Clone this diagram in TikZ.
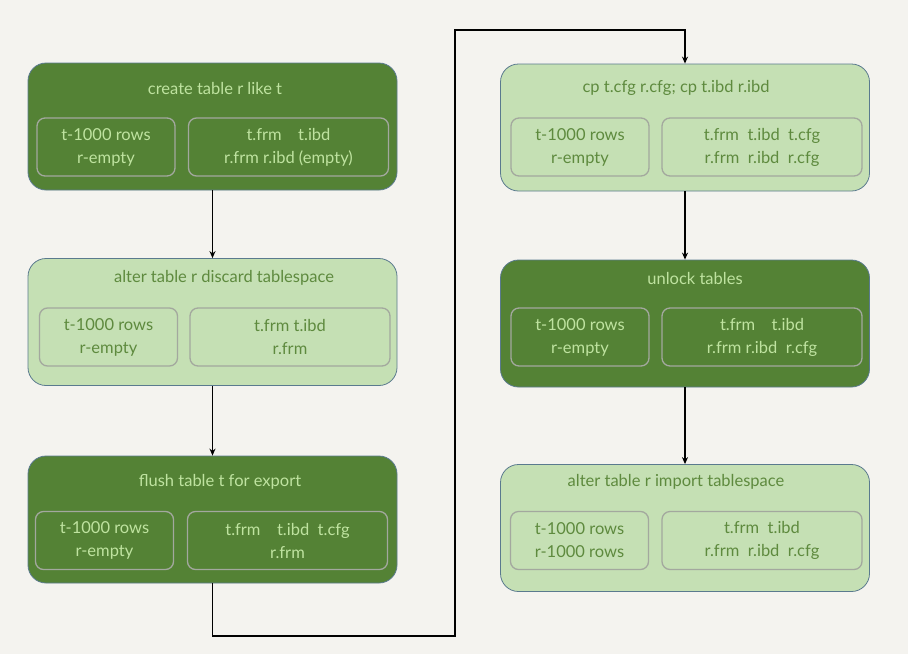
\documentclass[tikz,border=0pt]{standalone}
\usepackage{fontspec}
\setmainfont{Lato}
\usetikzlibrary{arrows.meta}
\definecolor{bg}{HTML}{F4F3EF}
\definecolor{dk}{HTML}{548235}
\definecolor{lt}{HTML}{C5E0B4}
\definecolor{dktext}{HTML}{BFE3A0}
\definecolor{lttext}{HTML}{5E8A3E}
\definecolor{edge}{HTML}{5A7A8E}
\definecolor{inedge}{HTML}{A3A89E}
\tikzset{
  outerdark/.style={draw=edge, line width=0.8pt, fill=dk, rounded corners=18pt, minimum width=369pt, minimum height=127pt},
  outerlight/.style={draw=edge, line width=0.8pt, fill=lt, rounded corners=18pt, minimum width=369pt, minimum height=127pt},
  innerbox/.style={draw=inedge, line width=1.3pt, rounded corners=8pt, minimum height=58pt, align=center, font=\fontsize{16.5}{23}\selectfont, inner sep=0pt},
  lbox/.style={innerbox, minimum width=138pt},
  rbox/.style={innerbox, minimum width=200pt},
  title/.style={font=\fontsize{16.5}{19}\selectfont},
  arr/.style={line width=1.4pt, black, -{Stealth[length=7pt,width=6pt]}}
}
\begin{document}
\begin{tikzpicture}[x=1pt,y=-1pt]
\useasboundingbox[fill=bg] (0,0) rectangle (908,654);
% left column
\node[outerdark] (b1) at (212.5,126.5) {};
\node[title, text=dktext] (t1) at (215,88) {create table r like t};
\node[lbox, text=dktext] (l1) at (106,147) {t-1000 rows\\r-empty};
\node[rbox, text=dktext] (r1) at (288.5,147) {t.frm\quad t.ibd\\r.frm r.ibd (empty)};

\node[outerlight] (b2) at (212.5,322) {};
\node[title, text=lttext] (t2) at (224,278) {alter table r discard tablespace};
\node[lbox, text=lttext] (l2) at (108.5,337) {t-1000 rows\\r-empty};
\node[rbox, text=lttext] (r2) at (290,337) {t.frm t.ibd\\r.frm};

\node[outerdark] (b3) at (212.5,519.5) {};
\node[title, text=dktext] (t3) at (220,482) {flush table t for export};
\node[lbox, text=dktext] (l3) at (104.5,540.5) {t-1000 rows\\r-empty};
\node[rbox, text=dktext] (r3) at (287.5,540.5) {t.frm\quad t.ibd\ \ t.cfg\\r.frm};

% right column
\node[outerlight] (b4) at (685,127.5) {};
\node[title, text=lttext] (t4) at (676,88) {cp t.cfg r.cfg; cp t.ibd r.ibd};
\node[lbox, text=lttext] (l4) at (580,147) {t-1000 rows\\r-empty};
\node[rbox, text=lttext] (r4) at (762,147) {t.frm\ \ t.ibd\ \ t.cfg\\r.frm\ \ r.ibd\ \ r.cfg};

\node[outerdark] (b5) at (685,323.5) {};
\node[title, text=dktext] (t5) at (695,278) {unlock tables};
\node[lbox, text=dktext] (l5) at (580,337) {t-1000 rows\\r-empty};
\node[rbox, text=dktext] (r5) at (762,337) {t.frm\quad t.ibd\\r.frm r.ibd\ \ r.cfg};

\node[outerlight] (b6) at (685,528) {};
\node[title, text=lttext] (t6) at (676,482) {alter table r import tablespace};
\node[lbox, text=lttext] (l6) at (579.5,540.5) {t-1000 rows\\r-1000 rows};
\node[rbox, text=lttext] (r6) at (762,540.5) {t.frm\ \ t.ibd\\r.frm\ \ r.ibd\ \ r.cfg};

% connectors
\coordinate (k1) at (455,636);
\coordinate (k2) at (455,30);
\draw[arr] (b1.south) -- (b2.north);
\draw[arr] (b2.south) -- (b3.north);
\draw[arr] (b3.south) |- (k1) -- (k2) -| (b4.north);
\draw[arr] (b4.south) -- (b5.north);
\draw[arr] (b5.south) -- (b6.north);
\end{tikzpicture}
\end{document}
